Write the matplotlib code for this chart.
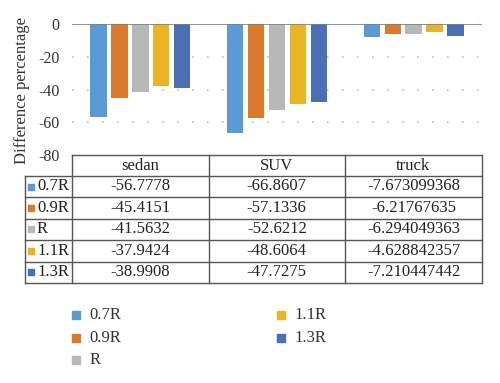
import matplotlib
matplotlib.use("Agg")
import matplotlib.pyplot as plt
import numpy as np

plt.rcParams['font.family'] = ['Liberation Serif', 'DejaVu Serif']

categories = ['sedan', 'SUV', 'truck']
series = ['0.7R', '0.9R', 'R', '1.1R', '1.3R']
values = {
    '0.7R': [-56.7778, -66.8607, -7.673099368],
    '0.9R': [-45.4151, -57.1336, -6.21767635],
    'R':    [-41.5632, -52.6212, -6.294049363],
    '1.1R': [-37.9424, -48.6064, -4.628842357],
    '1.3R': [-38.9908, -47.7275, -7.210447442],
}
value_text = {
    '0.7R': ['-56.7778', '-66.8607', '-7.673099368'],
    '0.9R': ['-45.4151', '-57.1336', '-6.21767635'],
    'R':    ['-41.5632', '-52.6212', '-6.294049363'],
    '1.1R': ['-37.9424', '-48.6064', '-4.628842357'],
    '1.3R': ['-38.9908', '-47.7275', '-7.210447442'],
}
colors = ['#5B9BD5', '#D97A2D', '#B8B8B8', '#E9B526', '#4A6FB5']
yticks = [0, -20, -40, -60, -80]

W, H = 500, 383
fig = plt.figure(figsize=(W / 100, H / 100), dpi=100)

# pixel geometry
ax_l, ax_r, ax_t, ax_b = 72, 482, 24, 155
ax = fig.add_axes([ax_l / W, 1 - ax_b / H, (ax_r - ax_l) / W, (ax_b - ax_t) / H])

step = 0.153
width = 0.12
x = np.arange(len(categories))
for i, (s, c) in enumerate(zip(series, colors)):
    ax.bar(x + (i - 2) * step, values[s], width=width, color=c, zorder=3)

ax.set_xlim(-0.5, len(categories) - 0.5)
ax.set_ylim(-80, 0)
ax.set_yticks(yticks)
ax.set_yticklabels([str(t) for t in yticks], fontsize=11.5, color='#333333')
ax.tick_params(axis='y', length=0, pad=9)
ax.set_xticks([])
for sp in ax.spines.values():
    sp.set_visible(False)
for t in [-20, -40, -60]:
    ax.axhline(t, color='#BFBFBF', lw=1.2, ls=(0, (1, 8)), zorder=1)
ax.axhline(0, color='#7F7F7F', lw=1.2, zorder=4)

# overlay in pixel coordinates for table and legend
ov = fig.add_axes([0, 0, 1, 1])
ov.set_xlim(0, W)
ov.set_ylim(H, 0)
ov.axis('off')

ov.text(22, 90, 'Difference percentage', rotation=90, ha='center', va='center',
        fontsize=12, color='#333333')

col_x = [25, 72, 208.5, 345, 482]
row_y = [155, 176, 197, 218.5, 240, 261.5, 283]
lc = '#555555'
lw = 1.0
# horizontal lines
ov.plot([72, 482], [row_y[0], row_y[0]], color=lc, lw=lw)
for y in row_y[1:]:
    ov.plot([25, 482], [y, y], color=lc, lw=lw)
# vertical lines
ov.plot([25, 25], [row_y[1], row_y[-1]], color=lc, lw=lw)
for cx in col_x[1:]:
    ov.plot([cx, cx], [row_y[0], row_y[-1]], color=lc, lw=lw)

# header
for j, cat in enumerate(categories):
    ov.text((col_x[j + 1] + col_x[j + 2]) / 2, (row_y[0] + row_y[1]) / 2, cat,
            ha='center', va='center', fontsize=12, color='#222222')
# rows
for i, (s, c) in enumerate(zip(series, colors)):
    yc = (row_y[i + 1] + row_y[i + 2]) / 2
    ov.scatter([30.5], [yc], marker='s', s=22, color=c, zorder=5)
    ov.text(37, yc, s, ha='left', va='center', fontsize=12, color='#222222')
    for j in range(len(categories)):
        ov.text((col_x[j + 1] + col_x[j + 2]) / 2, yc, value_text[s][j],
                ha='center', va='center', fontsize=12, color='#222222')

# legend
leg_pos = [(75.5, 315), (75.5, 338), (75.5, 360), (280.5, 315), (280.5, 338)]
for (lx, ly), s, c in zip(leg_pos, series, colors):
    ov.scatter([lx], [ly], marker='s', s=30, color=c)
    ov.text(lx + 14, ly, s, ha='left', va='center', fontsize=12, color='#333333')

fig.savefig('out.png', dpi=100)
